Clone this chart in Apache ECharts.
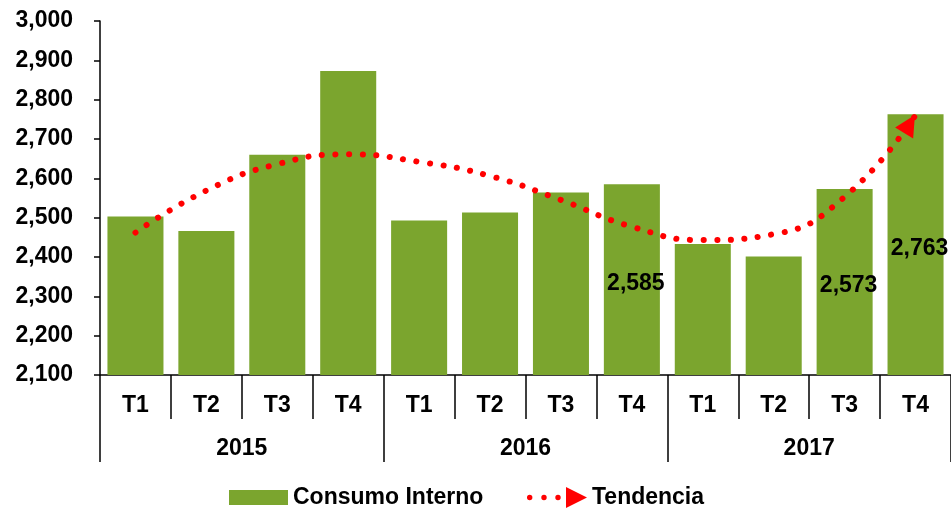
<!DOCTYPE html>
<html>
<head>
<meta charset="utf-8">
<script src="https://cdn.jsdelivr.net/npm/echarts@6/dist/echarts.min.js"></script>
<style>
  html, body { margin: 0; padding: 0; background: #fff; }
  #chart { width: 951px; height: 508px; }
</style>
</head>
<body>
<div id="chart"></div>
<script>
const quarters = ['T1', 'T2', 'T3', 'T4', 'T1', 'T2', 'T3', 'T4', 'T1', 'T2', 'T3', 'T4']
const years = ['2015', '2016', '2017']
const consumo = [2503, 2466, 2660, 2873, 2493, 2513, 2564, 2585, 2433, 2401, 2573, 2763]
const tendencia = [2462, 2569, 2636, 2661, 2642, 2606, 2545, 2477, 2443, 2458, 2553, 2761]
// barras que llevan etiqueta
const labeled = [7, 10, 11]

const font = 'Liberation Sans, Arial, sans-serif'
const txt = { color: '#000', fontWeight: 'bold', fontSize: 23, fontFamily: font }
const black = { color: '#000', width: 1.5 }

const arrowIcon = 'path://M0,10.5a2.7,2.7 0 1,0 5.4,0a2.7,2.7 0 1,0 -5.4,0Z' +
  'M14.3,10.5a2.7,2.7 0 1,0 5.4,0a2.7,2.7 0 1,0 -5.4,0Z' +
  'M28.3,10.5a2.7,2.7 0 1,0 5.4,0a2.7,2.7 0 1,0 -5.4,0Z' +
  'M39,0L60,10.5L39,21Z'

const chart = echarts.init(document.getElementById('chart'))

const option = {
  animation: false,
  grid: { left: 100, right: 0, top: 21, bottom: 133 },
  legend: [
    {
      data: [{ name: 'Consumo Interno', icon: 'rect' }],
      left: 229, top: 486, padding: 0,
      itemWidth: 59, itemHeight: 15,
      textStyle: txt
    },
    {
      data: [{ name: 'Tendencia', icon: arrowIcon, itemStyle: { color: '#ff0000' } }],
      left: 527, top: 486, padding: 0,
      itemWidth: 60, itemHeight: 21,
      textStyle: txt
    }
  ],
  xAxis: [
    {
      type: 'category',
      data: quarters,
      position: 'bottom',
      axisLine: { lineStyle: black },
      axisTick: { show: true, length: 44, interval: 0, lineStyle: black },
      axisLabel: { ...txt, interval: 0, margin: 19 }
    },
    {
      type: 'category',
      data: years,
      position: 'bottom',
      offset: 44,
      axisLine: { show: false },
      axisTick: { show: true, length: 43, interval: 0, lineStyle: black },
      axisLabel: { ...txt, interval: 0, margin: 18 }
    }
  ],
  yAxis: {
    type: 'value',
    min: 2100,
    max: 3000,
    interval: 100,
    axisLine: { show: true, lineStyle: black },
    axisTick: { show: true, length: 6, lineStyle: black },
    splitLine: { show: false },
    axisLabel: { ...txt, margin: 27, formatter: v => v.toLocaleString('en-US') }
  },
  series: [
    {
      name: 'Consumo Interno',
      type: 'bar',
      xAxisIndex: 0,
      barCategoryGap: '21%',
      itemStyle: { color: '#7ba52e' },
      data: consumo.map((v, i) => ({
        value: v,
        label: {
          show: labeled.includes(i),
          position: 'inside',
          offset: [4, 4],
          ...txt,
          formatter: p => p.value.toLocaleString('en-US')
        }
      }))
    },
    {
      name: 'Tendencia',
      type: 'line',
      xAxisIndex: 0,
      smooth: true,
      symbol: 'none',
      showSymbol: true,
      itemStyle: { color: '#ff0000' },
      lineStyle: { color: '#ff0000', width: 6, type: [0.1, 13.5], cap: 'round' },
      data: tendencia.map((v, i) => i === tendencia.length - 1
        ? { value: v, symbol: 'triangle', symbolSize: [21, 21], symbolRotate: -31, symbolOffset: [-6, 9] }
        : v)
    }
  ]
}

chart.setOption(option)
</script>
</body>
</html>
